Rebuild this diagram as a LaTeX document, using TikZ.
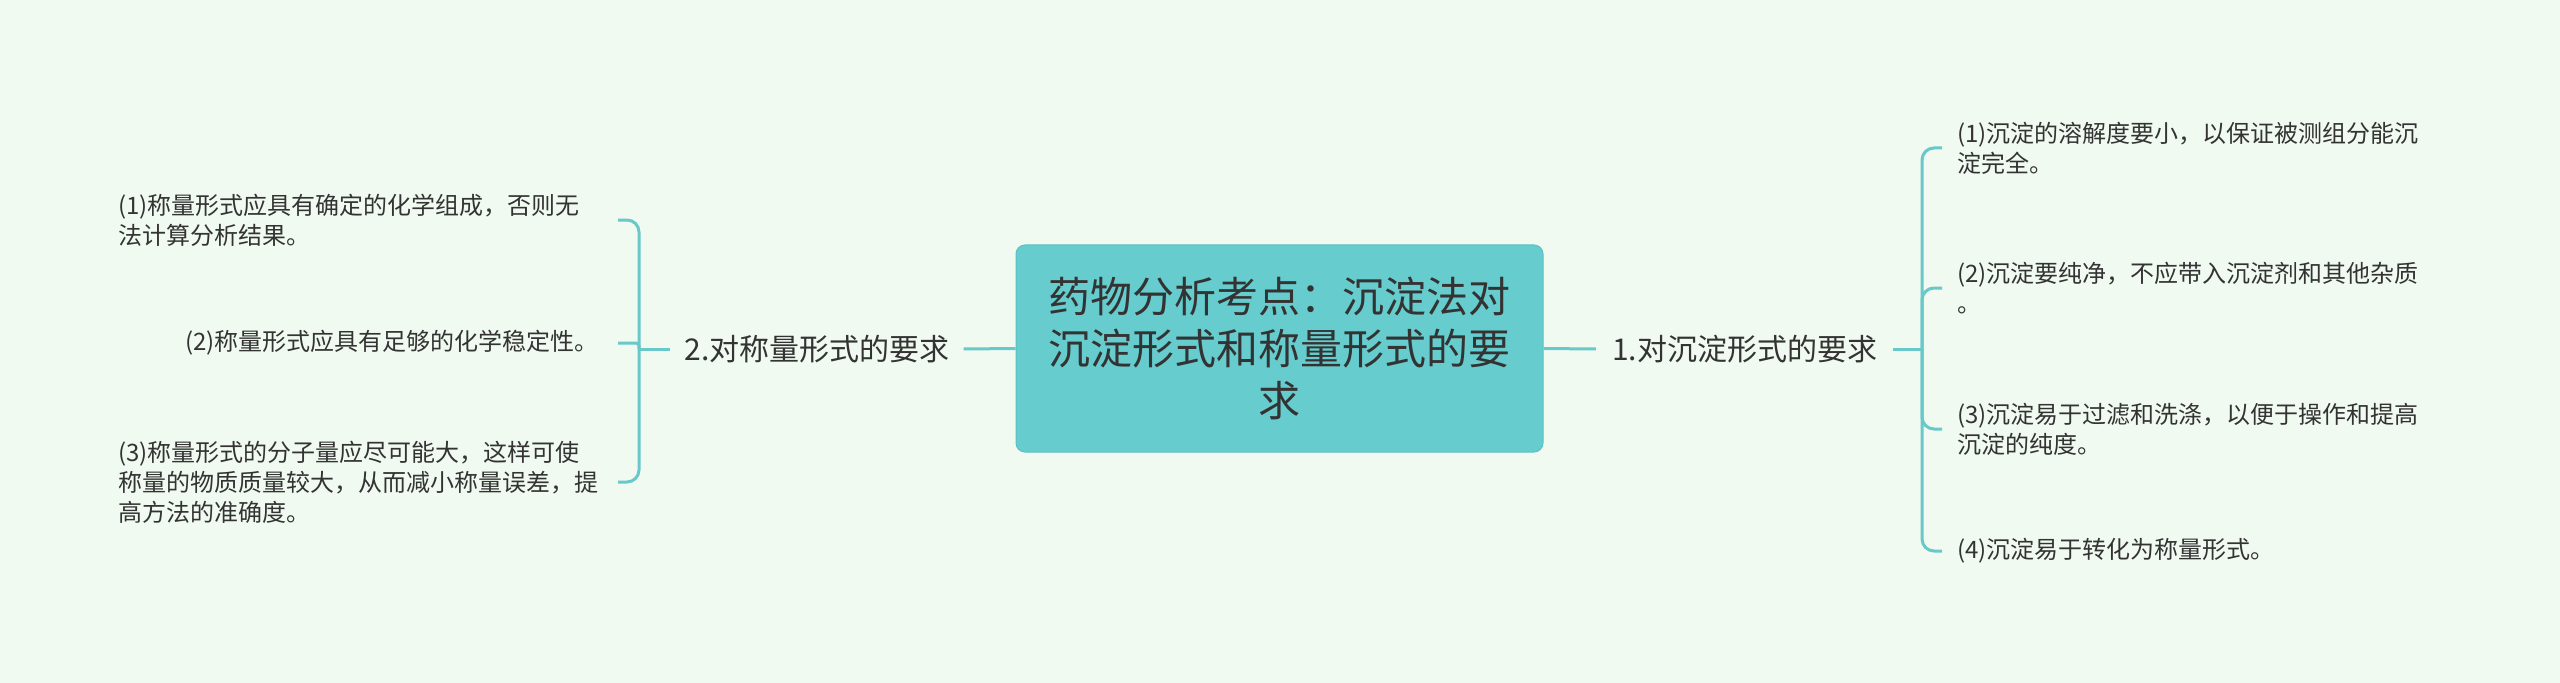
\documentclass[tikz,border=0pt]{standalone}
\usepackage{fontspec}
\setmainfont{Noto Sans CJK SC}
\definecolor{bgc}{RGB}{240,250,240}
\definecolor{boxfill}{RGB}{102,204,206}
\definecolor{boxdraw}{RGB}{92,192,196}
\definecolor{linec}{RGB}{104,200,202}
\definecolor{txt}{RGB}{51,51,51}
\begin{document}
\begin{tikzpicture}[x=1bp,y=-1bp,
  conn/.style={draw=linec,line width=3bp,rounded corners=12bp},
  leaf/.style={inner xsep=0pt,inner ysep=0pt,align=left,text=txt,
    font=\fontsize{24bp}{30bp}\selectfont},
  rleaf/.style={leaf,inner xsep=15bp,anchor=west},
  branch/.style={inner ysep=4bp,text=txt,font=\fontsize{30bp}{36bp}\selectfont},
  rootbox/.style={fill=boxfill,draw=boxdraw,line width=1bp,rounded corners=9bp,
    minimum width=527bp,minimum height=207bp,align=center,text=txt,
    font=\fontsize{42bp}{52bp}\selectfont}]
\fill[bgc] (0,0) rectangle (2560,683);
\useasboundingbox (0,0) rectangle (2560,683);

\node[rootbox] (root) at (1279.5,348.5) {药物分析考点：沉淀法对\\沉淀形式和称量形式的要\\求};

% right branch
\node[branch,inner xsep=16bp] (b1) at (1744.5,349) {1.对沉淀形式的要求};
\coordinate (jr) at (1922,349);
\node[rleaf] (r1) at (1942,148) {(1)沉淀的溶解度要小，以保证被测组分能沉\\淀完全。};
\node[rleaf] (r2) at (1942,288) {(2)沉淀要纯净，不应带入沉淀剂和其他杂质\\。};
\node[rleaf] (r3) at (1942,429) {(3)沉淀易于过滤和洗涤，以便于操作和提高\\沉淀的纯度。};
\node[rleaf] (r4) at (1942,551) {(4)沉淀易于转化为称量形式。};

% left branch
\node[branch,inner xsep=14bp] (b2) at (817,349) {2.对称量形式的要求};
\coordinate (jl) at (639,349);
\coordinate (sl) at (618,0);
\node[leaf,anchor=west] (l1) at (118,220) {(1)称量形式应具有确定的化学组成，否则无\\法计算分析结果。};
\node[leaf,anchor=west] (l2) at (185,343) {(2)称量形式应具有足够的化学稳定性。};
\node[leaf,anchor=west] (l3) at (118,482) {(3)称量形式的分子量应尽可能大，这样可使\\称量的物质质量较大，从而减小称量误差，提\\高方法的准确度。};

% connectors
\draw[conn] (root.east) -- (b1.west);
\draw[conn] (b1.east) -- (jr);
\draw[conn] (jr) |- (r1.west);
\draw[conn] (jr) |- (r2.west);
\draw[conn] (jr) |- (r3.west);
\draw[conn] (jr) |- (r4.west);

\draw[conn] (root.west) -- (b2.east);
\draw[conn] (b2.west) -- (jl);
\draw[conn] (jl) |- (l1.east -| sl);
\draw[conn,rounded corners=3bp] (jl) |- (l2.east -| sl);
\draw[conn] (jl) |- (l3.east -| sl);
\end{tikzpicture}
\end{document}
